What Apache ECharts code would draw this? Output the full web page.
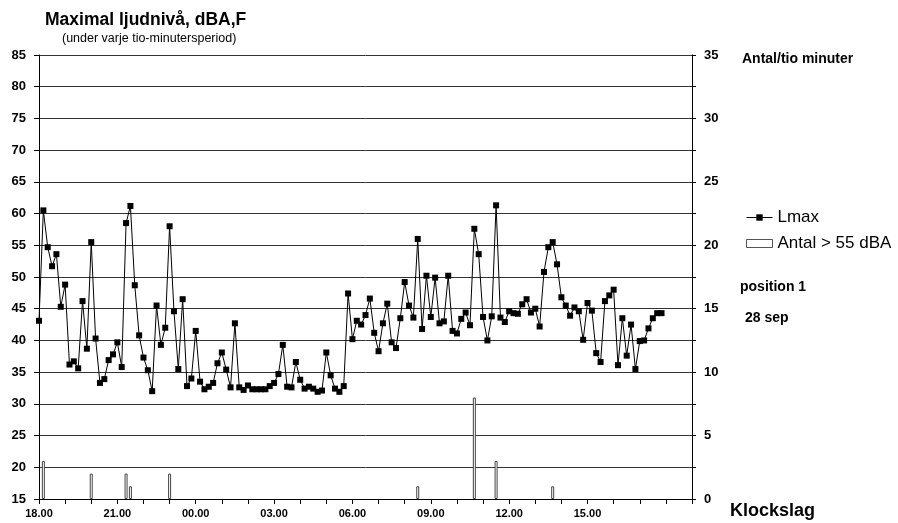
<!DOCTYPE html>
<html>
<head>
<meta charset="utf-8">
<script src="https://cdn.jsdelivr.net/npm/echarts@6/dist/echarts.min.js"></script>
<style>
  html, body { margin: 0; padding: 0; background: #fff; }
  #chart { width: 898px; height: 523px; }
</style>
</head>
<body>
<div id="chart"></div>
<script>
// Ten-minute periods from 18.00 to 19.00 the following day
const startHour = 18;
const periodCount = 151;

// Maximum sound level (dBA,F) per ten-minute period, starting 18.00
const lmax = [
  43.1, 60.5, 54.7, 51.7, 53.6, 45.3, 48.8, 36.2, 36.7, 35.6,
  46.2, 38.7, 55.5, 40.3, 33.3, 33.9, 36.9, 37.8, 39.7, 35.8,
  58.5, 61.2, 48.7, 40.8, 37.3, 35.3, 32.0, 45.5, 39.3, 42.0,
  58.0, 44.6, 35.5, 46.5, 32.8, 34.0, 41.5, 33.5, 32.3, 32.7,
  33.3, 36.4, 38.1, 35.4, 32.6, 42.7, 32.6, 32.2, 32.9, 32.3,
  32.3, 32.3, 32.3, 32.8, 33.3, 34.7, 39.3, 32.7, 32.6, 36.6,
  33.8, 32.4, 32.7, 32.4, 31.9, 32.1, 38.1, 34.5, 32.4, 31.9,
  32.8, 47.4, 40.2, 43.1, 42.5, 44.0, 46.6, 41.2, 38.3, 42.7,
  45.8, 39.7, 38.8, 43.5, 49.2, 45.5, 43.6, 56.0, 41.8, 50.2,
  43.7, 49.9, 42.7, 43.0, 50.2, 41.5, 41.1, 43.4, 44.4, 42.4,
  57.6, 53.6, 43.7, 40.0, 43.8, 61.3, 43.6, 42.9, 44.6, 44.3,
  44.2, 45.7, 46.5, 44.4, 45.0, 42.2, 50.8, 54.7, 55.5, 52.0,
  46.8, 45.5, 43.9, 45.2, 44.6, 40.1, 45.9, 44.7, 38.0, 36.6,
  46.2, 47.1, 48.0, 36.1, 43.5, 37.6, 42.5, 35.5, 39.9, 40.0,
  41.9, 43.5, 44.3, 44.3
];

// Number of events above 55 dBA per ten-minute period
const antal = [
  0, 3, 0, 0, 0, 0, 0, 0, 0, 0,
  0, 0, 2, 0, 0, 0, 0, 0, 0, 0,
  2, 1, 0, 0, 0, 0, 0, 0, 0, 0,
  2, 0, 0, 0, 0, 0, 0, 0, 0, 0,
  0, 0, 0, 0, 0, 0, 0, 0, 0, 0,
  0, 0, 0, 0, 0, 0, 0, 0, 0, 0,
  0, 0, 0, 0, 0, 0, 0, 0, 0, 0,
  0, 0, 0, 0, 0, 0, 0, 0, 0, 0,
  0, 0, 0, 0, 0, 0, 0, 1, 0, 0,
  0, 0, 0, 0, 0, 0, 0, 0, 0, 0,
  8, 0, 0, 0, 0, 3, 0, 0, 0, 0,
  0, 0, 0, 0, 0, 0, 0, 0, 1, 0,
  0, 0, 0, 0, 0, 0, 0, 0, 0, 0,
  0, 0, 0, 0, 0, 0, 0, 0, 0, 0,
  0, 0, 0, 0
];

// Hour labels printed under the time axis
const tickLabels = ['18.00', '21.00', '00.00', '03.00', '06.00', '09.00', '12.00', '15.00'];

const categories = [];
for (let i = 0; i < periodCount; i++) {
  const mins = startHour * 60 + i * 10;
  const h = Math.floor(mins / 60) % 24;
  const m = mins % 60;
  categories.push(String(h).padStart(2, '0') + '.' + String(m).padStart(2, '0'));
}

const FONT = '"Liberation Sans", Arial, sans-serif';
const chart = echarts.init(document.getElementById('chart'), null, { renderer: 'canvas' });

chart.setOption({
  animation: false,
  backgroundColor: '#ffffff',
  textStyle: { fontFamily: FONT, color: '#000' },
  grid: { left: 39, right: 206, top: 55, bottom: 24, containLabel: false },
  title: [
    {
      text: 'Maximal ljudnivå, dBA,F',
      left: 40, top: 6,
      textStyle: { fontFamily: FONT, fontSize: 17.5, fontWeight: 'bold', color: '#000' }
    },
    {
      text: '(under varje tio-minutersperiod)',
      left: 57, top: 27,
      textStyle: { fontFamily: FONT, fontSize: 12.5, fontWeight: 'normal', color: '#000' }
    }
  ],
  legend: {
    left: 741, top: 204,
    orient: 'vertical',
    itemGap: 9,
    itemWidth: 26,
    itemHeight: 8,
    textStyle: { fontFamily: FONT, fontSize: 17, color: '#000' },
    data: [
      { name: 'Lmax', lineStyle: { width: 1 } },
      { name: 'Antal > 55 dBA', icon: 'rect', itemStyle: { color: '#fff', borderColor: '#555', borderWidth: 1 } }
    ]
  },
  graphic: [
    { type: 'text', left: 742, top: 52, style: { text: 'Antal/tio minuter', font: 'bold 14px ' + FONT, fill: '#000' } },
    { type: 'text', left: 740, top: 280, style: { text: 'position 1', font: 'bold 14px ' + FONT, fill: '#000' } },
    { type: 'text', left: 745, top: 311, style: { text: '28 sep', font: 'bold 14px ' + FONT, fill: '#000' } },
    { type: 'text', left: 730, top: 502, style: { text: 'Klockslag', font: 'bold 18px ' + FONT, fill: '#000' } }
  ],
  xAxis: {
    type: 'category',
    data: categories,
    boundaryGap: false,
    axisLine: { lineStyle: { color: '#000', width: 1 } },
    axisTick: {
      show: true, inside: false, length: 5,
      interval: function (i) { return i % 6 === 0; },
      lineStyle: { color: '#000' }
    },
    axisLabel: {
      interval: function (i) { return i % 18 === 0 && i < 144; },
      formatter: function (v, i) { return tickLabels[i / 18] || ''; },
      fontFamily: FONT, fontSize: 11, fontWeight: 'bold', color: '#000', margin: 9
    },
    splitLine: { show: false }
  },
  yAxis: [
    {
      type: 'value', min: 15, max: 85, interval: 5,
      axisLine: { show: true, lineStyle: { color: '#000', width: 1 } },
      axisTick: { show: true, length: 5, lineStyle: { color: '#000' } },
      axisLabel: { fontFamily: FONT, fontSize: 13, fontWeight: 'bold', color: '#000', margin: 13 },
      splitLine: { show: true, lineStyle: { color: '#333', width: 1 } }
    },
    {
      type: 'value', min: 0, max: 35, interval: 2.5,
      position: 'right',
      axisLine: { show: true, lineStyle: { color: '#000', width: 1 } },
      axisTick: { show: true, length: 4, lineStyle: { color: '#000' } },
      axisLabel: {
        fontFamily: FONT, fontSize: 13, fontWeight: 'bold', color: '#000', margin: 12,
        formatter: function (v) { return v % 5 === 0 ? String(v) : ''; }
      },
      splitLine: { show: false }
    }
  ],
  series: [
    {
      name: 'Antal > 55 dBA',
      type: 'bar',
      yAxisIndex: 1,
      barWidth: 3,
      data: antal.map(function (v) { return v > 0 ? v : null; }),
      itemStyle: { color: '#fff', borderColor: '#444', borderWidth: 1 },
      z: 2
    },
    {
      name: 'Lmax',
      type: 'line',
      yAxisIndex: 0,
      data: lmax,
      symbol: 'rect',
      symbolSize: 6,
      showAllSymbol: true,
      lineStyle: { color: '#000', width: 1 },
      itemStyle: { color: '#000' },
      z: 3
    }
  ]
});
</script>
</body>
</html>
